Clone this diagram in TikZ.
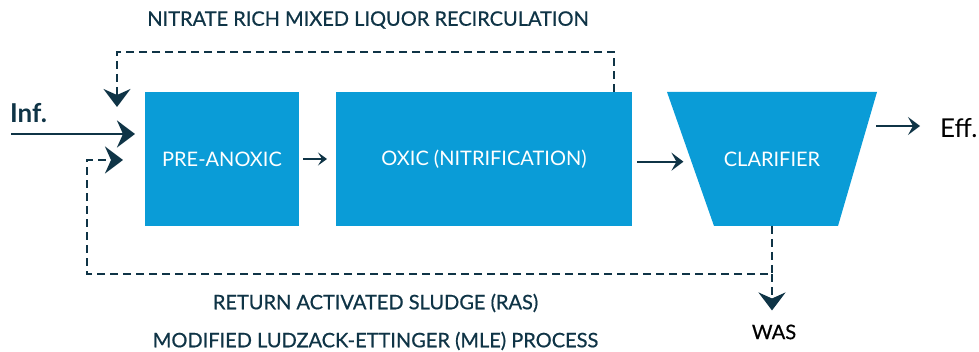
\documentclass[tikz,border=0pt]{standalone}
\usepackage{fontspec}
\setmainfont{Lato}
\newfontfamily\capfont{Lato}[FakeBold=0.6]
\usetikzlibrary{positioning,arrows.meta,calc}
\definecolor{tankblue}{HTML}{0A9CD7}
\definecolor{navy}{HTML}{0F3446}

\begin{document}
\begin{tikzpicture}[x=1pt,y=1pt,
tank/.style={
  fill=tankblue,
  text=white,
  inner sep=0pt,
  outer sep=0pt,
  minimum height=134pt,
  font=\fontsize{20}{24}\selectfont
},
flow/.style={
  draw=navy,
  line width=2.8pt,
  -{Stealth[length=18pt,width=27pt,inset=6pt]}
},
recycle/.style={
  flow,
  line width=2.4pt,
  dash pattern=on 8pt off 5pt
},
pass/.style={
  draw=navy,
  line width=2pt,
  -{Stealth[length=12pt,width=18pt,inset=5pt]}
},
caption/.style={
  text=navy,
  inner sep=0pt,
  font=\capfont\fontsize{20}{24}\selectfont
},
node distance=37pt
]
\useasboundingbox (0,0) rectangle (979,352);

% tanks
\node[tank, minimum width=154pt] at (222,193)
  (preanoxic) {PRE-ANOXIC};
\node[tank, minimum width=296pt, right=of preanoxic]
  (oxic) {OXIC (NITRIFICATION)};

% clarifier (funnel)
\coordinate (clar) at (772,193);
\coordinate (clar-tl) at ($(clar)+(-105,67)$);
\coordinate (clar-tr) at ($(clar)+(105,67)$);
\coordinate (clar-br) at ($(clar)+(66,-67)$);
\coordinate (clar-bl) at ($(clar)+(-58,-67)$);
\fill[tankblue] (clar-tl) -- (clar-tr) -- (clar-br) -- (clar-bl) -- cycle;
\node[tank, fill=none, minimum height=0pt] at (clar) (clarifier) {CLARIFIER};
\coordinate (clar-in) at ($(clar-tl)!0.52!(clar-bl)$);
\coordinate (clar-out) at ($(clar)+(0,-67)$);

% influent and effluent
\node[caption, anchor=west, font=\bfseries\fontsize{26}{30}\selectfont] at (10,238.5)
  (inf) {Inf.};
\coordinate (infin) at (11,218);
\node[caption, text=black, anchor=west, font=\fontsize{26}{30}\selectfont] at (940,224)
  (eff) {Eff.};

\draw[flow] (infin) -- ([xshift=-10pt]preanoxic.west |- infin);
\draw[pass, -{Stealth[length=9pt,width=13pt,inset=4pt]}]
  ([xshift=4pt]preanoxic.east) -- ([xshift=-9pt]oxic.west);
\draw[pass] ([xshift=5pt]oxic.east |- clar-in) -- ([xshift=-8pt]clar-in);
\draw[pass] ([xshift=-64pt,yshift=2pt]eff.west) -- ([xshift=-20pt,yshift=2pt]eff.west);

% internal recycle
\node[caption] at (368,332) (nrcy) {NITRATE RICH MIXED LIQUOR RECIRCULATION};
\draw[recycle] ([xshift=-18pt]oxic.north east) -- ++(0,40)
  -| ([xshift=-28pt,yshift=-15pt]preanoxic.north west);

% sludge return and wasting
\coordinate (split) at (clar-out |- 0,78);
\node[caption] at (375.5,49) (ras) {RETURN ACTIVATED SLUDGE (RAS)};
\node[caption, text=black] at (774,20) (was) {WAS};
\draw[recycle] (clar-out) -- (split) -- ++(-685,0)
  |- ([xshift=-22pt,yshift=-1pt]preanoxic.west);
\draw[recycle] (split) -- ([yshift=14pt]was.north -| split);

\node[caption] at (375.5,11) (mle) {MODIFIED LUDZACK-ETTINGER (MLE) PROCESS};
\end{tikzpicture}
\end{document}
